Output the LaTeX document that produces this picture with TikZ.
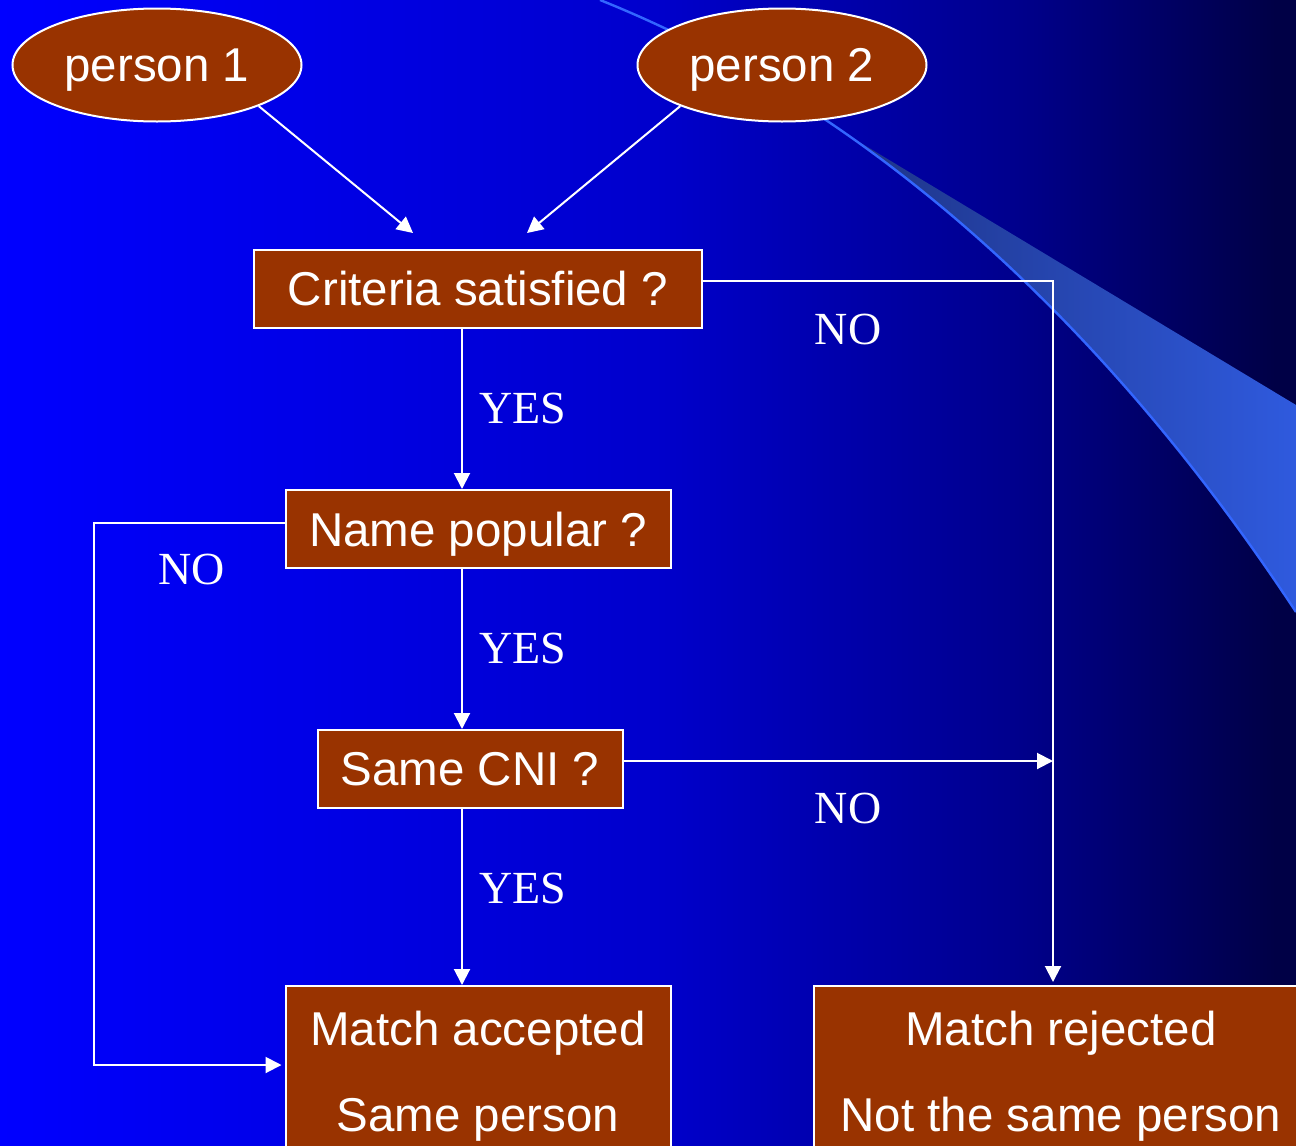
\documentclass[tikz,border=0pt]{standalone}
\usepackage{fontspec}
\setmainfont{Liberation Serif}
\setsansfont{Liberation Sans}
\usetikzlibrary{shapes.geometric,arrows.meta}
\definecolor{rust}{HTML}{993300}
\definecolor{swoosh}{HTML}{3366FF}
\pgfdeclarehorizontalshading{slidebg}{100bp}{rgb(0bp)=(0,0,1); rgb(25bp)=(0,0,1);
  rgb(50.3bp)=(0,0,0.8); rgb(64.2bp)=(0,0,0.55); rgb(74.2bp)=(0,0,0.275); rgb(100bp)=(0,0,0.26)}
\begin{document}
\begin{tikzpicture}[x=0.5pt,y=-0.5pt,
  box/.style={draw=white,line width=1pt,fill=rust,text=white,inner sep=0pt,
    font=\sffamily\fontsize{23.75}{43}\selectfont},
  onebox/.style={box,minimum height=39pt,text depth=0pt},
  blob/.style={box,ellipse,minimum width=144.5pt,minimum height=56.5pt,text depth=0pt},
  lbl/.style={text=white,inner sep=0pt,font=\fontsize{23}{27}\selectfont},
  flow/.style={draw=white,line width=1pt,-{Triangle[length=8pt,width=8pt]}}]

  \useasboundingbox (0,0) rectangle (1296,1146);
  \clip (0,0) rectangle (1296,1146);
  \shade[shading=slidebg] (0,0) rectangle (1296,1146);

  % the swoosh
  \shade[left color={rgb,255:red,30;green,52;blue,135},right color={rgb,255:red,47;green,90;blue,222}]
    (851,137) -- (1296,405) -- (1296,612) .. controls (1180,436) and (1032,265) .. (851,137) -- cycle;
  \draw[swoosh,line width=1.2pt] (600,0) .. controls (900,120) and (1130,360) .. (1296,612);

  \node[blob] (p1) at (157,65) {person 1};
  \node[blob] (p2) at (782,65) {person 2};
  \node[onebox,minimum width=224pt] (crit) at (478,288.5) {Criteria satisfied ?};
  \node[onebox,minimum width=192.5pt] (pop) at (478,529) {Name popular ?};
  \node[onebox,minimum width=152.5pt] (cni) at (470,769) {Same CNI ?};
  \node[box,anchor=north,align=center,minimum width=192.5pt,inner ysep=12.5pt] (acc) at (478,985)
    {Match accepted\\Same person};
  \node[box,anchor=north,align=center,minimum width=247pt,inner ysep=12.5pt] (rej) at (1061,985)
    {Match rejected\\Not the same person};

  \coordinate (t1) at (413,233);
  \coordinate (t2) at (527,233);
  \coordinate (vx) at (462,0);
  \coordinate (nr) at (1053,281);
  \coordinate (nj) at (1053,761);
  \coordinate (nl) at (94,523);
  \coordinate (nb) at (94,1065);

  \draw[flow] (p1.-22) -- (t1);
  \draw[flow] (p2.-158) -- (t2);
  \draw[flow] (crit.south -| vx) -- (pop.north -| vx);
  \draw[flow] (pop.south -| vx) -- (cni.north -| vx);
  \draw[flow] (cni.south -| vx) -- (acc.north -| vx);
  \draw[flow,shorten >=1.5pt] (crit.east |- nr) -- (nr) -- (rej.north -| nr);
  \draw[flow] (cni.east |- nj) -- (nj);
  \draw[flow,shorten >=1.5pt] (pop.west |- nl) -- (nl) -- (nb) -- (acc.west |- nb);

  \foreach \y [count=\i] in {408,648,888}{
    \node[lbl] (yes\i) at (523,\y) {YES};
  }
  \node[lbl] (no1) at (848,329) {NO};
  \node[lbl] (no2) at (192,569) {NO};
  \node[lbl] (no3) at (848,808) {NO};
\end{tikzpicture}
\end{document}
